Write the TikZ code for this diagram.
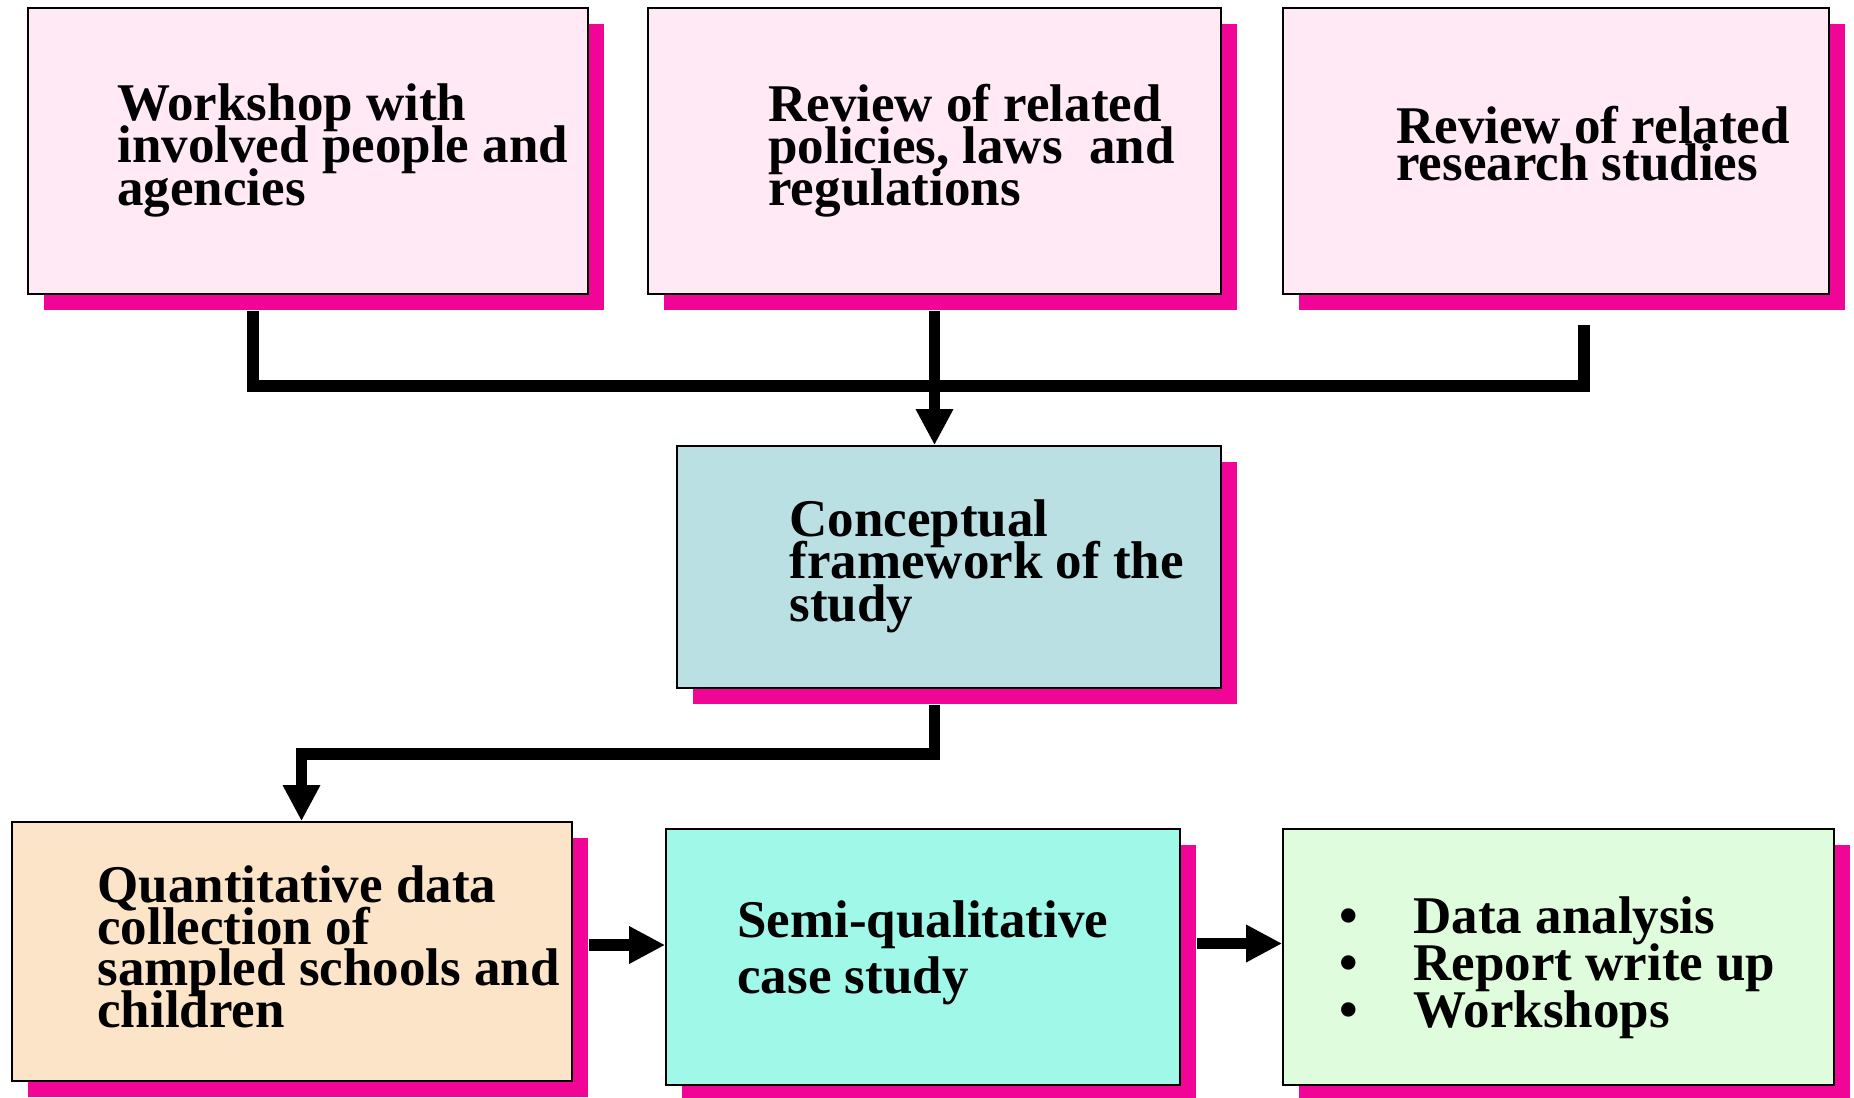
\documentclass[tikz,border=0pt]{standalone}
\usepackage{fontspec}
\setmainfont{Liberation Serif}
\usetikzlibrary{positioning,arrows.meta,shadows}
\definecolor{shadowpink}{RGB}{240,5,150}
\definecolor{pinkbox}{RGB}{255,233,245}
\definecolor{bluebox}{RGB}{186,224,228}
\definecolor{peachbox}{RGB}{252,228,200}
\definecolor{aquabox}{RGB}{160,248,232}
\definecolor{greenbox}{RGB}{223,252,220}
\newcommand{\boxfont}[1]{\bfseries\fontsize{26.5}{#1}\selectfont\lineskiplimit=-100pt\relax}
\tikzset{
 box/.style={draw=black,line width=0.8pt,inner sep=0pt,
  drop shadow={shadow xshift=8pt,shadow yshift=-8pt,fill=shadowpink,opacity=1}},
 txt/.style={anchor=base west,align=left,inner sep=0pt,font=\boxfont{21.25}},
 bus/.style={line width=5.8pt},
 arrow/.style={line width=5.8pt,-{Triangle[length=18pt,width=17.5pt]}}
}
\newcommand{\bul}{\makebox[36.75pt][l]{•}}
\begin{document}
\begin{tikzpicture}[x=0.5pt,y=-0.5pt]
 \useasboundingbox (0,0) rectangle (1854,1098);
 % boxes
 \node[box,fill=pinkbox,minimum width=280pt,minimum height=143pt] (workshop) at (308,151) {};
 \node[box,fill=pinkbox,minimum width=286.5pt,minimum height=143pt] (policies) at (934.5,151) {};
 \node[box,fill=pinkbox,minimum width=273pt,minimum height=143pt] (research) at (1556,151) {};
 \node[box,fill=bluebox,minimum width=272pt,minimum height=121pt] (framework) at (949,567) {};
 \node[box,fill=peachbox,minimum width=280pt,minimum height=129.5pt] (quant) at (292,951.5) {};
 \node[box,fill=aquabox,minimum width=257pt,minimum height=128pt] (semiqual) at (923,957) {};
 \node[box,fill=greenbox,minimum width=275.5pt,minimum height=128pt] (analysis) at (1558.5,957) {};
 % texts (last baseline)
 \node[txt] (workshoptxt) at (117,205) {Workshop with\\involved people and\\agencies};
 \node[txt,font=\boxfont{21}] (policiestxt) at (768,205) {Review of related\\policies, laws~ and\\regulations};
 \node[txt,font=\boxfont{18.5}] (researchtxt) at (1396,180) {Review of related\\research studies};
 \node[txt] (frameworktxt) at (789,621) {Conceptual\\framework of the\\study};
 \node[txt,font=\boxfont{20.7}] (quanttxt) at (97,1027) {Quantitative data\\collection of\\sampled schools and\\children};
 \node[txt,font=\boxfont{28}] (semiqualtxt) at (737,993) {Semi-qualitative\\case study};
 \node[txt,font=\boxfont{23.5}] (analysistxt) at (1339.5,1027) {\bul Data analysis\\\bul Report write up\\\bul Workshops};
 % connectors
 \coordinate (top1) at (253,311);
 \coordinate (join1) at (253,386);
 \coordinate (join3) at (1584,386);
 \coordinate (top3) at (1584,325);
 \coordinate (turn) at (301.5,754);
 \draw[bus] (top1) -- (join1) -- (join3) -- (top3);
 \draw[arrow] ([yshift=-8pt]policies.south) -- (policies.south |- framework.north);
 \draw[arrow] ([yshift=-8pt]framework.south -| policies.south) |- (turn) -- (turn |- quant.north);
 \draw[arrow] ([xshift=8pt,yshift=3.25pt]quant.east) -- ([yshift=3.25pt]quant.east -| semiqual.west);
 \draw[arrow] ([xshift=8pt,yshift=6.75pt]semiqual.east) -- ([yshift=6.75pt]semiqual.east -| analysis.west);
\end{tikzpicture}
\end{document}
